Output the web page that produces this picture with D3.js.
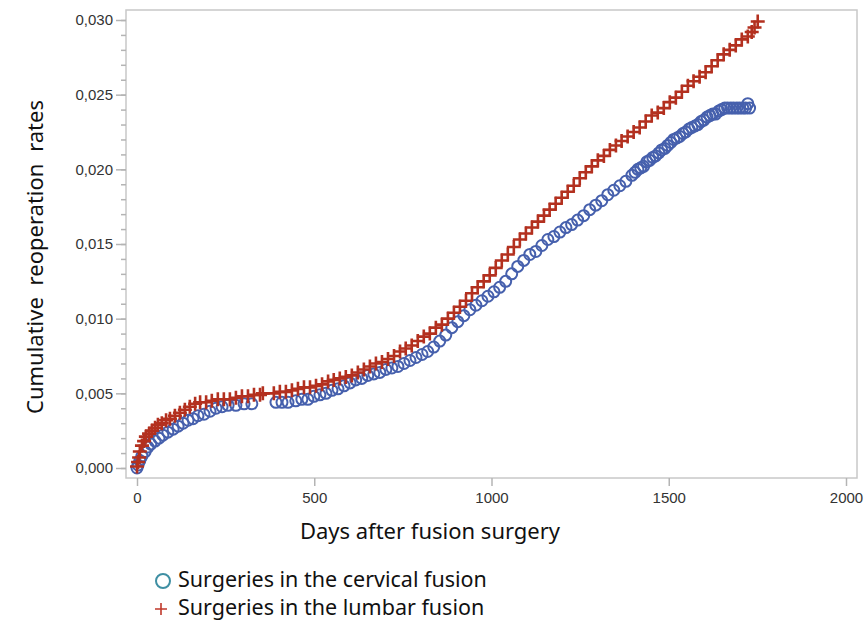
<!DOCTYPE html>
<html>
<head>
<meta charset="utf-8">
<script src="https://cdn.jsdelivr.net/npm/d3@7"></script>
<style>
  body { margin: 0; background: #fff; }
  .tick-label { font-family: "Liberation Sans Narrow", "Liberation Sans", sans-serif; font-size: 15px; fill: #333; }
  .title { font-family: "Noto Sans", sans-serif; font-size: 22px; fill: #111; }
  .legend-text { font-family: "Noto Sans", sans-serif; font-size: 21.5px; fill: #111; }
</style>
</head>
<body>
<div id="chartArea"></div>
<script>
// data: days after surgery and cumulative reoperation rate
const cervicalDays = [0, 3, 8, 14, 23, 31, 39, 51, 62, 73, 87, 102, 116, 130, 144, 158, 172, 189, 206, 223, 240, 257, 279, 302, 324,
  392, 409, 426, 448, 465, 482, 499, 516, 533, 550, 567, 584, 601, 617, 634, 651, 668, 685, 702, 719, 736, 753, 770, 787, 804, 820,
  837, 854, 871, 888, 905, 922, 939, 956, 973, 990, 1007, 1023, 1040, 1057, 1074, 1091, 1108, 1125, 1142, 1159, 1176, 1193, 1210,
  1226, 1243, 1260, 1277, 1294, 1311, 1328, 1345, 1362, 1379, 1396, 1405, 1413, 1421, 1429, 1438, 1446, 1455, 1463, 1472, 1480,
  1489, 1497, 1506, 1514, 1523, 1531, 1540, 1548, 1557, 1565, 1574, 1582, 1591, 1599, 1608, 1616, 1624, 1632, 1641, 1649, 1658,
  1666, 1675, 1683, 1692, 1700, 1709, 1717, 1723, 1728];
const cervicalRates = [0.0000, 0.0002, 0.0005, 0.0008, 0.0011, 0.0014, 0.0016, 0.0018, 0.0020, 0.0022, 0.0024, 0.0026, 0.0028,
  0.0030, 0.0032, 0.0033, 0.0035, 0.0036, 0.0038, 0.0040, 0.0041, 0.0042, 0.0042, 0.0043, 0.0043,
  0.0044, 0.0044, 0.0044, 0.0045, 0.0046, 0.0046, 0.0048, 0.0049, 0.0050, 0.0052, 0.0053, 0.0055, 0.0057, 0.0059, 0.0060, 0.0062,
  0.0063, 0.0064, 0.0066, 0.0067, 0.0068, 0.0070, 0.0072, 0.0074, 0.0076, 0.0078, 0.0081, 0.0085, 0.0089, 0.0094, 0.0098, 0.0102,
  0.0106, 0.0109, 0.0112, 0.0115, 0.0118, 0.0121, 0.0125, 0.0130, 0.0135, 0.0139, 0.0143, 0.0145, 0.0149, 0.0153, 0.0155, 0.0158,
  0.0161, 0.0163, 0.0166, 0.0169, 0.0173, 0.0176, 0.0179, 0.0183, 0.0186, 0.0189, 0.0192, 0.0196, 0.0198, 0.0200, 0.0201, 0.0202,
  0.0205, 0.0206, 0.0208, 0.0209, 0.0211, 0.0213, 0.0214, 0.0216, 0.0218, 0.0220, 0.0221, 0.0222, 0.0224, 0.0225, 0.0227, 0.0228,
  0.0229, 0.0230, 0.0232, 0.0233, 0.0235, 0.0236, 0.0237, 0.0237, 0.0239, 0.0240, 0.0241, 0.0241, 0.0241, 0.0241, 0.0241, 0.0241,
  0.0241, 0.0241, 0.0244, 0.0241];

const lumbarDays = [0, 3, 6, 8, 14, 20, 25, 34, 42, 51, 59, 70, 82, 93, 107, 121, 135, 149, 164, 178, 195, 211, 228, 245, 262, 279,
  296, 313, 330, 347, 355, 386, 403, 420, 437, 454, 471, 488, 505, 522, 539, 555, 572, 589, 606, 623, 640, 657, 674, 691, 708, 725,
  742, 758, 775, 792, 809, 826, 843, 860, 877, 894, 911, 928, 945, 961, 978, 995, 1012, 1029, 1046, 1063, 1080, 1097, 1114, 1131,
  1148, 1164, 1181, 1198, 1215, 1232, 1249, 1266, 1283, 1300, 1317, 1334, 1351, 1367, 1384, 1401, 1418, 1435, 1452, 1469, 1486,
  1503, 1520, 1537, 1554, 1570, 1587, 1604, 1621, 1638, 1655, 1672, 1689, 1706, 1723, 1734, 1742, 1751];
const lumbarRates = [0.0001, 0.0004, 0.0007, 0.0011, 0.0015, 0.0018, 0.0021, 0.0023, 0.0025, 0.0027, 0.0029, 0.0030, 0.0032,
  0.0033, 0.0035, 0.0037, 0.0039, 0.0041, 0.0043, 0.0044, 0.0044, 0.0045, 0.0046, 0.0046, 0.0046, 0.0047, 0.0048, 0.0048, 0.0049,
  0.0049, 0.0050, 0.0050, 0.0051, 0.0051, 0.0052, 0.0053, 0.0054, 0.0054, 0.0055, 0.0056, 0.0058, 0.0059, 0.0060, 0.0061, 0.0062,
  0.0064, 0.0066, 0.0068, 0.0070, 0.0071, 0.0073, 0.0075, 0.0078, 0.0080, 0.0082, 0.0085, 0.0088, 0.0090, 0.0094, 0.0096, 0.0100,
  0.0104, 0.0108, 0.0112, 0.0117, 0.0121, 0.0125, 0.0129, 0.0134, 0.0139, 0.0143, 0.0148, 0.0153, 0.0157, 0.0161, 0.0165, 0.0169,
  0.0173, 0.0177, 0.0181, 0.0185, 0.0189, 0.0194, 0.0198, 0.0202, 0.0206, 0.0209, 0.0213, 0.0216, 0.0219, 0.0222, 0.0225, 0.0228,
  0.0232, 0.0236, 0.0238, 0.0241, 0.0245, 0.0248, 0.0252, 0.0256, 0.0259, 0.0262, 0.0265, 0.0269, 0.0273, 0.0277, 0.0280, 0.0283,
  0.0287, 0.0289, 0.0292, 0.0295, 0.0299];

const xTicks = [0, 500, 1000, 1500, 2000];
const yTicks = [0, 0.005, 0.010, 0.015, 0.020, 0.025, 0.030];
const seriesNames = ['Surgeries in the cervical fusion', 'Surgeries in the lumbar fusion'];

const width = 867;
const height = 620;
const frame = { left: 126, right: 857, top: 10, bottom: 478 };

const svg = d3.select('#chartArea').append('svg')
  .attr('width', width)
  .attr('height', height);

const x = d3.scaleLinear().domain([0, 2000]).range([137, 846]);
const y = d3.scaleLinear().domain([0, 0.030]).range([468, 20]);
const fmt = (v) => d3.format('.3f')(v).replace('.', ',');

// frame
svg.append('rect')
  .attr('x', frame.left).attr('y', frame.top)
  .attr('width', frame.right - frame.left).attr('height', frame.bottom - frame.top)
  .attr('fill', 'none').attr('stroke', '#c8c8c8').attr('stroke-width', 1.5);

// Y-Axis
const yAxis = svg.append('g').attr('transform', `translate(${frame.left},0)`)
  .call(d3.axisLeft(y).tickValues(yTicks).tickFormat(fmt).tickSize(10).tickPadding(3));
const yMinor = svg.append('g').attr('transform', `translate(${frame.left},0)`)
  .call(d3.axisLeft(y).ticks(30).tickFormat('').tickSize(5));

// X-Axis
const xAxis = svg.append('g').attr('transform', `translate(0,${frame.bottom})`)
  .call(d3.axisBottom(x).tickValues(xTicks).tickFormat(d3.format('d')).tickSize(8).tickPadding(6));

[yAxis, yMinor, xAxis].forEach((g) => {
  g.select('.domain').remove();
  g.selectAll('.tick line').attr('stroke', '#b4b4b4').attr('stroke-width', 1.5);
  g.selectAll('.tick text').attr('class', 'tick-label').attr('fill', null);
});

// points
const cervical = cervicalDays.map((d, i) => [d, cervicalRates[i]]);
const lumbar = lumbarDays.map((d, i) => [d, lumbarRates[i]]);

svg.append('g').selectAll('circle').data(cervical).enter()
  .append('circle')
  .attr('cx', (d) => x(d[0]))
  .attr('cy', (d) => y(d[1]))
  .attr('r', 5.5)
  .attr('fill', 'none')
  .attr('stroke', '#4660ad')
  .attr('stroke-width', 2);

svg.append('g').selectAll('path').data(lumbar).enter()
  .append('path')
  .attr('transform', (d) => `translate(${x(d[0])},${y(d[1])})`)
  .attr('d', 'M-7,0H7M0,-7V7')
  .attr('fill', 'none')
  .attr('stroke', '#b3301f')
  .attr('stroke-width', 2.6);

// axis titles
svg.append('text').attr('class', 'title')
  .attr('x', 430).attr('y', 539).attr('text-anchor', 'middle')
  .text('Days after fusion surgery');
svg.append('text').attr('class', 'title')
  .attr('transform', 'translate(43,257) rotate(-90)').attr('text-anchor', 'middle')
  .style('word-spacing', '6px')
  .text('Cumulative reoperation rates');

// legend
const legend = svg.append('g');
legend.append('circle').attr('cx', 163).attr('cy', 581).attr('r', 7)
  .attr('fill', 'none').attr('stroke', '#3f8fa3').attr('stroke-width', 2);
legend.append('text').attr('class', 'legend-text').attr('x', 178).attr('y', 587).text(seriesNames[0]);
legend.append('path').attr('d', 'M155,609H167M161,603V615')
  .attr('stroke', '#c0392b').attr('stroke-width', 1.6);
legend.append('text').attr('class', 'legend-text').attr('x', 178).attr('y', 615).text(seriesNames[1]);
</script>
</body>
</html>
